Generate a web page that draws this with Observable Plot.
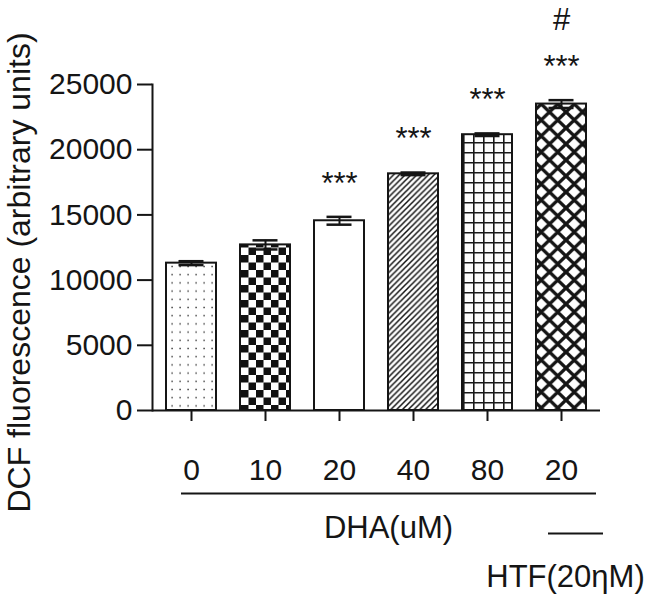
<!DOCTYPE html>
<html><head><meta charset="utf-8">
<script src="https://cdn.jsdelivr.net/npm/d3@7"></script>
<script src="https://cdn.jsdelivr.net/npm/@observablehq/plot@0.6"></script>
<style>
body{margin:0;background:#fff;}
#chart svg{display:block;}
</style></head><body><div id="chart"></div>
<script>
// ---- data ----
const doses = ["0", "10", "20", "40", "80", "20"];
const means = [11300, 12700, 14550, 18150, 21150, 23500];
const sems = [150, 350, 300, 100, 100, 300];
const stars = ["", "", "***", "***", "***", "***"];
const hashes = ["", "", "", "", "", "#"];
const yTicks = [0, 5000, 10000, 15000, 20000, 25000];
const yTitle = "DCF fluorescence (arbitrary units)";
const groupLabel = "DHA(uM)";
const htfLabel = "HTF(20ηM)";

// ---- styles ----
const fills = ["url(#p-dots)", "url(#p-check)", "#ffffff", "url(#p-diag)", "url(#p-grid)", "url(#p-diamond)"];
const ink = "#151515";
const font = "'Liberation Sans', Arial, sans-serif";

const data = doses.map((d, i) => ({i, dose: d, mean: means[i], sem: sems[i], star: stars[i], hash: hashes[i], fill: fills[i]}));

const chart = Plot.plot({
  width: 653, height: 597,
  marginLeft: 152, marginRight: 53, marginTop: 84, marginBottom: 187,
  style: {fontFamily: font, background: "#fff", color: ink},
  x: {type: "band", domain: d3.range(doses.length), paddingInner: 0.33, paddingOuter: 0.165},
  y: {domain: [0, 25000]},
  color: {type: "identity"},
  marks: [
    Plot.barY(data, {x: "i", y: "mean", fill: "fill", stroke: ink, strokeWidth: 2}),
    Plot.ruleX(data, {x: "i", y1: d => d.mean - d.sem, y2: d => d.mean + d.sem, stroke: ink, strokeWidth: 2}),
    Plot.tickY(data, {x: "i", y: d => d.mean + d.sem, insetLeft: 12.5, insetRight: 12.5, stroke: ink, strokeWidth: 2.5}),
    Plot.tickY(data, {x: "i", y: d => d.mean - d.sem, insetLeft: 12.5, insetRight: 12.5, stroke: ink, strokeWidth: 2.5}),
    Plot.text(data, {x: "i", y: d => d.mean + d.sem, text: "star", dy: -33, fontSize: 31, fill: ink}),
    Plot.text(data, {x: "i", y: d => d.mean + d.sem, text: "hash", dy: -80, fontSize: 31, fill: ink}),
    Plot.ruleY([0], {stroke: ink, strokeWidth: 2}),
    Plot.frame({anchor: "left", stroke: ink, strokeWidth: 2}),
    Plot.axisY({ticks: yTicks, tickSize: 15, tickPadding: 5, fontSize: 30, stroke: ink, strokeWidth: 2, label: null, tickFormat: d => String(d)}),
    Plot.axisX({tickSize: 11, tickPadding: 37, fontSize: 30, stroke: ink, strokeWidth: 2, label: null, tickFormat: i => doses[i]}),
    Plot.ruleY([0], {dy: 83, insetLeft: 29, insetRight: 4, stroke: ink, strokeWidth: 2.2}),
    Plot.ruleY([0], {dy: 123, insetLeft: 396, insetRight: -3, stroke: ink, strokeWidth: 2.2}),
    Plot.text([groupLabel], {frameAnchor: "bottom", lineAnchor: "middle", textAnchor: "middle", dx: 12, dy: 118, fontSize: 31, fill: ink}),
    Plot.text([htfLabel], {x: [doses.length - 1], frameAnchor: "bottom", lineAnchor: "middle", textAnchor: "middle", dx: 4, dy: 167, fontSize: 31, fill: ink}),
    Plot.text([yTitle], {frameAnchor: "left", lineAnchor: "middle", textAnchor: "middle", rotate: -90, dx: -133, dy: 25, fontSize: 32, fill: ink})
  ]
});

d3.select(chart).insert("defs", ":first-child").html(`
  <pattern id="p-dots" patternUnits="userSpaceOnUse" width="8" height="8.2">
    <rect width="8" height="8.2" fill="#fff"/>
    <rect x="3.4" y="3.4" width="1.4" height="1.4" fill="#333"/>
  </pattern>
  <pattern id="p-check" patternUnits="userSpaceOnUse" width="15" height="15" x="1">
    <rect width="15" height="15" fill="#fff"/>
    <rect width="7.5" height="7.5" fill="#111"/>
    <rect x="7.5" y="7.5" width="7.5" height="7.5" fill="#111"/>
  </pattern>
  <pattern id="p-diag" patternUnits="userSpaceOnUse" width="5.8" height="5.8">
    <rect width="5.8" height="5.8" fill="#fff"/>
    <path d="M-1,6.8 L6.8,-1 M-1,1 L1,-1 M4.8,6.8 L6.8,4.8" stroke="#111" stroke-width="1.5"/>
  </pattern>
  <pattern id="p-grid" patternUnits="userSpaceOnUse" width="10" height="10" x="3" y="2">
    <rect width="10" height="10" fill="#fff"/>
    <path d="M0,0.8 H10 M0.8,0 V10" stroke="#1a1a1a" stroke-width="1.6"/>
  </pattern>
  <pattern id="p-diamond" patternUnits="userSpaceOnUse" width="16.5" height="16" x="5">
    <rect width="16.5" height="16" fill="#fff"/>
    <path d="M-2,-1.94 L18.5,17.94 M18.5,-1.94 L-2,17.94" stroke="#151515" stroke-width="3.4"/>
  </pattern>
`);

document.getElementById("chart").appendChild(chart);
</script>
</body></html>
